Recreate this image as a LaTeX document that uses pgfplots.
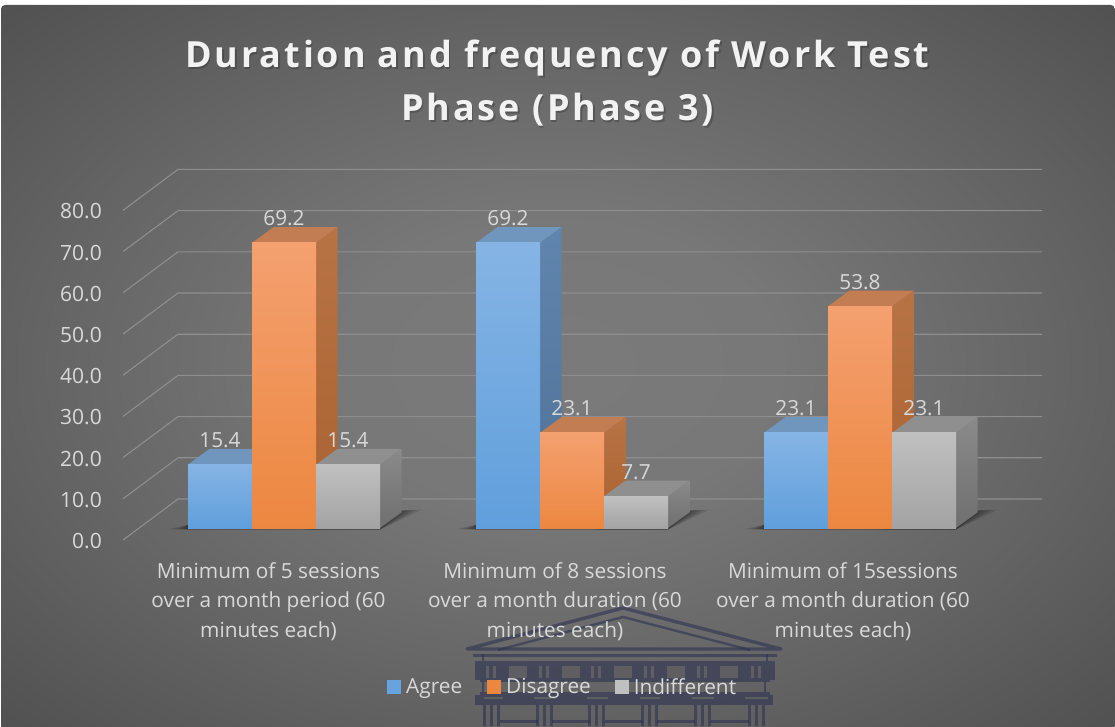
\documentclass[border=0pt]{standalone}
\usepackage{fontspec}
\setmainfont{Open Sans}
\newfontfamily\titlefont[LetterSpace=8.0]{Open Sans}
\usepackage{pgfplots}
\pgfplotsset{compat=1.18}
\usetikzlibrary{calc}
\definecolor{txt}{HTML}{D9D9D9}
\definecolor{gridc}{HTML}{8E8E8E}
\definecolor{wm}{HTML}{2E3252}
\definecolor{btop}{HTML}{7096BE}\definecolor{bsa}{HTML}{6085AE}\definecolor{bsb}{HTML}{4F7096}
\definecolor{bfa}{HTML}{85B4E4}\definecolor{bfb}{HTML}{609FDC}
\definecolor{otop}{HTML}{C27E52}\definecolor{osa}{HTML}{B87345}\definecolor{osb}{HTML}{A96230}
\definecolor{ofa}{HTML}{F4A070}\definecolor{ofb}{HTML}{EC8740}
\definecolor{gtop}{HTML}{8F8F8F}\definecolor{gsa}{HTML}{8A8A8A}\definecolor{gsb}{HTML}{6F6F6F}
\definecolor{gfa}{HTML}{C0C0C0}\definecolor{gfb}{HTML}{A3A3A3}
\pgfdeclareradialshading{bgshade}{\pgfpoint{0bp}{0bp}}{
  color(0bp)=(black!52!white);
  color(10bp)=(black!53!white);
  color(22bp)=(black!60!white);
  color(35bp)=(black!68!white);
  color(50bp)=(black!71!white)}
\newcommand{\threedbar}[8]{%
  \pgfmathsetmacro{\xb}{#1+64}\pgfmathsetmacro{\xc}{#1+85.5}\pgfmathsetmacro{\xd}{#1+21.5}%
  \pgfmathsetmacro{\vt}{#2+3.81}%
  \addplot[forget plot,draw=none,fill=#5] coordinates {(#1,#2)(\xd,\vt)(\xc,\vt)(\xb,#2)} --cycle;
  \addplot[forget plot,draw=none,shade,top color=#6,bottom color=#7] coordinates {(\xb,0)(\xc,3.81)(\xc,\vt)(\xb,#2)} --cycle;
  \addplot[forget plot,draw=none,shade,top color=#3,bottom color=#4] coordinates {(#1,0)(\xb,0)(\xb,#2)(#1,#2)} --cycle;
}
\newcommand{\floorshadow}[2]{%
  \pgfmathsetmacro{\sa}{#1-#2}\pgfmathsetmacro{\sb}{#1+192+21.5+#2}\pgfmathsetmacro{\sc}{#1+192+21.5}%
  \pgfmathsetmacro{\sd}{#1+192}%
  \addplot[forget plot,draw=none,fill=black,fill opacity=0.11] coordinates {(\sa,-0.3)(\sd,-0.4)(\sb,4.4)(\sc,4.2)(#1,0.8)} --cycle;
}
\begin{document}
\begin{tikzpicture}
\useasboundingbox (0,0) rectangle (1115pt,726pt);
\fill[white] (0,0) rectangle (1115pt,726pt);
\begin{scope}[shift={(0,726pt)},x=1pt,y=-1pt]
\begin{scope}
\clip[rounded corners=4pt] (1,5) -- (1115,5) -- (1115,730) -- (1,730) -- cycle;
\shade[shading=bgshade] (0,5) rectangle (1115,726);
% watermark
\begin{scope}[opacity=0.6,wm]
\draw[line width=3.4pt,line join=round] (467,649) -- (623,608) -- (781,649) -- cycle;
\draw[line width=2.4pt] (498,650) -- (623,617) -- (750,650);
\fill (473,654) rectangle (777,656.5);
\fill (475,661) rectangle (775,680);
\fill (482,654) rectangle (484,661);\fill (766,654) rectangle (768,661);
\fill (480,680) rectangle (770,682);
\fill (480,692) rectangle (770,695);
\fill (482,682) rectangle (484,692);\fill (764,682) rectangle (766,692);
\fill (475,695) rectangle (773,705);
\foreach \c in {492,545,597,650,703,757}{
 \fill (\c-9,705) rectangle (\c-6.5,726);
 \fill (\c-2,705) rectangle (\c+0.5,726);
 \fill (\c+5,705) rectangle (\c+7.5,726);
}
\foreach \c in {519,571,624,676,730}{
 \fill (\c-19,720) rectangle (\c+19,723);
}
\end{scope}
% metopes and frieze gaps
\begin{scope}[black!60!white,opacity=0.8]
\foreach \c in {518,571,623,676,729}{\fill (\c-9,666) rectangle (\c+9,678);}
\foreach \c in {492,545,597,650,703,757}{
 \fill (\c-6,666) rectangle (\c-3.5,678);\fill (\c+1,666) rectangle (\c+3.5,678);}
\fill (484,696.5) rectangle (503,698.5);\fill (534,696.5) rectangle (556,698.5);
\fill (587,696.5) rectangle (608,698.5);\fill (640,696.5) rectangle (660,698.5);
\fill (692,696.5) rectangle (714,698.5);\fill (745,696.5) rectangle (768,698.5);
\end{scope}
\end{scope}
\end{scope}
% wall and grid
\begin{axis}[at={(0,0)},anchor=south west,scale only axis,width=1115pt,height=726pt,
  xmin=0,xmax=1115,ymin=-45.15,ymax=131.07,clip=false,
  axis line style={draw=none},
  major tick length=0pt,xtick=\empty,
  ytick={0,10,20,30,40,50,60,70,80},
  y tick label style={/pgf/number format/fixed,/pgf/number format/fixed zerofill,/pgf/number format/precision=1,
    /pgf/number format/assume math mode=true,
    text=txt,font=\fontsize{21}{24}\selectfont,anchor=east,xshift=102pt,yshift=-1pt,inner sep=0pt},
]
\pgfplotsinvokeforeach{0,10,20,30,40,50,60,70,80}{
  \addplot[forget plot,gridc,line width=1.1pt] table[row sep=\\,y expr=\thisrow{y}+#1] {x y\\ 123 0\\ 178 9.95\\ 1042 9.95\\};
}
\end{axis}
% bars
\begin{axis}[at={(0,0)},anchor=south west,scale only axis,width=1115pt,height=726pt,
  xmin=0,xmax=1115,ymin=-48.06,ymax=128.16,clip=false,
  axis line style={draw=none},major tick length=0pt,ytick=\empty,
  xtick={268.5,555,843},
  xticklabels={{Minimum of 5 sessions\\over a month period (60\\minutes each)},
    {Minimum of 8 sessions\\over a month duration (60\\minutes each)},
    {Minimum of 15sessions\\over a month duration (60\\minutes each)}},
  x tick label style={text=txt,font=\fontsize{20.8}{29.6}\selectfont,align=center,anchor=north,yshift=164pt,inner sep=0pt},
  legend style={at={(387pt,39pt)},anchor=west,draw=none,fill=none,text=txt,font=\fontsize{20.8}{24}\selectfont,
    legend columns=3,/tikz/every even column/.append style={column sep=0pt},inner sep=0pt,
    legend cell align=left,
    nodes={inner xsep=0pt}},
  legend image code/.code={\fill[#1,draw=none] (0pt,-7pt) rectangle (14pt,7pt);},
]
\floorshadow{188}{3}\floorshadow{188}{7}\floorshadow{188}{11}\floorshadow{188}{15}\floorshadow{188}{20}
\floorshadow{476}{3}\floorshadow{476}{7}\floorshadow{476}{11}\floorshadow{476}{15}\floorshadow{476}{20}
\floorshadow{764}{3}\floorshadow{764}{7}\floorshadow{764}{11}\floorshadow{764}{15}\floorshadow{764}{20}
\threedbar{188}{15.4}{bfa}{bfb}{btop}{bsa}{bsb}{}
\threedbar{252}{69.2}{ofa}{ofb}{otop}{osa}{osb}{}
\threedbar{316}{15.4}{gfa}{gfb}{gtop}{gsa}{gsb}{}
\threedbar{476}{69.2}{bfa}{bfb}{btop}{bsa}{bsb}{}
\threedbar{540}{23.1}{ofa}{ofb}{otop}{osa}{osb}{}
\threedbar{604}{7.7}{gfa}{gfb}{gtop}{gsa}{gsb}{}
\threedbar{764}{23.1}{bfa}{bfb}{btop}{bsa}{bsb}{}
\threedbar{828}{53.8}{ofa}{ofb}{otop}{osa}{osb}{}
\threedbar{892}{23.1}{gfa}{gfb}{gtop}{gsa}{gsb}{}
\addplot[forget plot,draw=none,
  nodes near coords,
  point meta=explicit,
  every node near coord/.append style={text=txt,font=\fontsize{20.8}{24}\selectfont,anchor=center,yshift=24.5pt,inner sep=0pt,
    /pgf/number format/fixed,/pgf/number format/fixed zerofill,/pgf/number format/precision=1,/pgf/number format/assume math mode=true}]
  coordinates {(220,15.4)[15.4] (284,69.2)[69.2] (348,15.4)[15.4]
               (508,69.2)[69.2] (572,23.1)[23.1] (636,7.7)[7.7]
               (796,23.1)[23.1] (860,53.8)[53.8] (924,23.1)[23.1]};
\addlegendimage{fill=bfb!80!bfa}\addlegendentry{\hspace*{5pt}Agree\hspace*{25pt}\mbox{}}
\addlegendimage{fill=ofb}\addlegendentry{\hspace*{5pt}Disagree\hspace*{24pt}\mbox{}}
\addlegendimage{fill=gfa}\addlegendentry{\hspace*{5pt}Indifferent}
\end{axis}
\begin{scope}[shift={(0,726pt)},x=1pt,y=-1pt]
\node[text=black,opacity=0.2,align=center,inner sep=0pt,font=\titlefont\bfseries\fontsize{36}{53}\selectfont] at (559,85) {Duration and frequency of Work Test\\Phase (Phase 3)};
\node[text=white!95!black,align=center,inner sep=0pt,font=\titlefont\bfseries\fontsize{36}{53}\selectfont] at (557.5,83.5) {Duration and frequency of Work Test\\Phase (Phase 3)};
\end{scope}
\end{tikzpicture}
\end{document}
